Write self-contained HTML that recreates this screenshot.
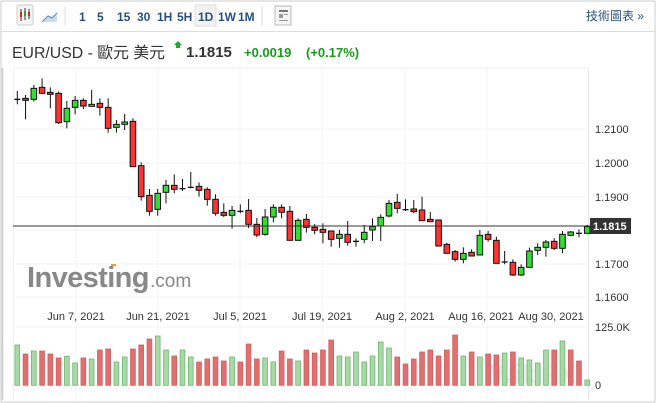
<!DOCTYPE html>
<html><head><meta charset="utf-8">
<style>
body{margin:0;width:656px;height:403px;overflow:hidden;background:#fff;font-family:"Liberation Sans","Noto Sans CJK TC",sans-serif;}
svg{position:absolute;left:0;top:0}
</style></head>
<body>
<svg id="s" width="656" height="403" xmlns="http://www.w3.org/2000/svg" font-family="Liberation Sans, Noto Sans CJK TC, sans-serif">
<rect x="1" y="1" width="654" height="401" fill="#fff" stroke="#ccc"/>
<line x1="0" y1="31.5" x2="656" y2="31.5" stroke="#ddd"/>
<rect x="17" y="5" width="16" height="20" rx="2" fill="#f4f4f4" stroke="#ccc"/>
<g stroke="#333"><line x1="21" y1="9" x2="21" y2="21"/><line x1="25" y1="8" x2="25" y2="20"/><line x1="29" y1="9" x2="29" y2="19"/></g>
<rect x="20" y="12" width="2" height="5" fill="#d22"/><rect x="24" y="11" width="2" height="5" fill="#2a2"/><rect x="28" y="12" width="2" height="4" fill="#d22"/>
<path d="M42 22 L48 16 L52 18 L57 13 L57 22 Z" fill="#cde"/><path d="M42 22 L48 16 L52 18 L57 13" fill="none" stroke="#6890b8" stroke-width="1.2"/>
<line x1="65" y1="6" x2="65" y2="26" stroke="#ddd"/>
<g font-size="12" fill="#2a4f7e" font-weight="bold">
<text x="79" y="21">1</text><text x="97" y="21">5</text><text x="117" y="21">15</text><text x="137" y="21">30</text><text x="157" y="21">1H</text><text x="177" y="21">5H</text>
<rect x="195" y="5" width="21" height="21" fill="#f2f2f2" stroke="#ddd"/><text x="198" y="21">1D</text><text x="218" y="21">1W</text><text x="238" y="21">1M</text></g>
<line x1="262" y1="6" x2="262" y2="26" stroke="#ddd"/>
<rect x="275" y="6" width="16" height="19" fill="#f4f4f4" stroke="#bbb"/><rect x="279" y="10" width="9" height="2" fill="#777"/><rect x="279" y="14" width="4" height="4" fill="#999"/><rect x="284" y="14" width="4" height="1" fill="#999"/><rect x="279" y="20" width="9" height="1" fill="#999"/>
<text x="586" y="20" font-size="12" fill="#2a4f7e">技術圖表 »</text>
<text x="12" y="58" font-size="16" fill="#333" textLength="153" lengthAdjust="spacingAndGlyphs">EUR/USD - 歐元 美元</text>
<path d="M174 45 L178 41 L182 45 L180 45 L180 48 L176 48 L176 45Z" fill="#2a2"/>
<text x="186" y="57" font-size="15" font-weight="bold" fill="#333">1.1815</text>
<text x="244" y="57" font-size="13" font-weight="bold" fill="#1a9a1a">+0.0019</text>
<text x="306" y="57" font-size="13" font-weight="bold" fill="#1a9a1a">(+0.17%)</text>
<line x1="13" y1="68" x2="588" y2="68" stroke="#eee"/>
<line x1="13.5" y1="68" x2="13.5" y2="400" stroke="#eee"/>
<line x1="588.5" y1="68" x2="588.5" y2="400" stroke="#e6e6e6"/>
<line x1="2.5" y1="68" x2="2.5" y2="400" stroke="#ccc" stroke-width="1.5"/>
<g stroke="#f3f3f3"><line x1="13" y1="129" x2="588" y2="129"/><line x1="13" y1="163" x2="588" y2="163"/><line x1="13" y1="197" x2="588" y2="197"/><line x1="13" y1="230" x2="588" y2="230"/><line x1="13" y1="264" x2="588" y2="264"/><line x1="13" y1="297" x2="588" y2="297"/><line x1="13" y1="327" x2="588" y2="327"/>
<line x1="76" y1="68" x2="76" y2="400"/><line x1="158" y1="68" x2="158" y2="400"/><line x1="240" y1="68" x2="240" y2="400"/><line x1="322" y1="68" x2="322" y2="400"/><line x1="405" y1="68" x2="405" y2="400"/><line x1="487" y1="68" x2="487" y2="400"/></g>
<g font-size="11" fill="#333"><text x="595" y="133">1.2100</text><text x="595" y="167">1.2000</text><text x="595" y="201">1.1900</text><text x="595" y="268">1.1700</text><text x="595" y="301">1.1600</text><text x="595" y="331">125.0K</text><text x="595" y="389">0</text></g>
<g font-size="11" fill="#333" text-anchor="middle"><text x="76" y="320">Jun 7, 2021</text><text x="158" y="320">Jun 21, 2021</text><text x="240" y="320">Jul 5, 2021</text><text x="322" y="320">Jul 19, 2021</text><text x="405" y="320">Aug 2, 2021</text><text x="481" y="320">Aug 16, 2021</text><text x="551" y="320">Aug 30, 2021</text></g>
<text x="27" y="287" font-size="29" font-weight="bold" fill="#888" letter-spacing="-0.6">Investing</text><text x="150" y="287" font-size="19" fill="#888">.com</text>
<rect x="111" y="264" width="5" height="2" fill="#f0a030"/>
<text x="490" y="383" font-size="26" fill="#eee" font-weight="bold">WikiFX</text>
<g id="vol"></g><g id="c"></g>
<line x1="13" y1="226" x2="590" y2="226" stroke="#333" stroke-width="1"/>
<rect x="590" y="218" width="41" height="16" fill="#333"/><text x="593" y="230" font-size="11" fill="#fff" font-weight="bold">1.1815</text>
</svg>
<script>
var A=[[88,88,63,103],[85,91,75,148],[88,55,45,95],[52,70,25,70],[67,73,52,115],[70,158,65,162],[155,115,93,175],[112,91,78,133],[91,108,85,117],[109,103,60,109],[100,112,85,137],[112,175,85,188],[172,163,150,188],[163,156,132,180],[154,290,145,290],[287,380,277,392],[376,424,357,437],[418,370,357,437],[367,346,330,400],[346,358,313,370],[356,356,327,363],[352,352,306,355],[349,361,337,380],[358,388,352,407],[388,430,373,437],[427,436,400,441],[436,421,408,476],[424,424,403,430],[421,463,387,474],[463,495,444,502],[493,441,417,497],[441,412,403,457],[412,427,403,445],[424,511,408,511],[511,451,445,511],[448,472,432,488],[472,481,462,493],[478,487,460,520]];
var B=[[183,208,183,230],[205,193,180,233],[193,217,153,227],[214,214,205,230],[208,187,165,220],[180,170,145,213],[168,142,133,213],[138,100,90,142],[97,115,72,130],[119,119,88,123],[117,125,90,130],[120,152,80,152],[148,155,126,155],[150,228,150,230],[223,250,218,250],[245,268,240,275],[268,250,232,280],[247,258,238,258],[255,196,180,255],[193,208,183,215],[211,280,200,280],[276,276,243,283],[277,315,268,318],[315,292,283,318],[292,243,233,292],[241,232,220,255],[232,216,210,260],[214,235,205,240],[235,193,183,250],[196,186,183,197],[190,190,178,202],[190,170,165,190]];
var h='';function cd(i,o,c,hi,lo){var x=17.3+i*8.26;h+='<line x1="'+x+'" y1="'+hi+'" x2="'+x+'" y2="'+lo+'" stroke="#111" stroke-width="1"/>';var t=Math.min(o,c),b=Math.max(o,c);if(b-t<1.5){h+='<line x1="'+(x-3)+'" y1="'+t+'" x2="'+(x+3)+'" y2="'+t+'" stroke="#111" stroke-width="1.3"/>';}else h+='<rect x="'+(x-2.8)+'" y="'+t+'" width="5.6" height="'+(b-t)+'" fill="'+(c<o?'#33dd33':'#ff3333')+'" stroke="#111" stroke-width="1"/>';}
A.forEach(function(d,i){cd(i,70+d[0]/3,70+d[1]/3,70+d[2]/3,70+d[3]/3);});
B.forEach(function(d,i){cd(38+i,170+d[0]/3,170+d[1]/3,170+d[2]/3,170+d[3]/3);});
document.getElementById('c').innerHTML=h;
var V="g135 r162 g153 r153 r162 r174 g169 g189 r174 g177 r150 r147 g186 g171 r147 r135 r117 g108 g150 r168 g150 g171 r186 r177 r171 r183 g171 r186 r132 r177 g174 g186 r153 r177 g183 r150 r159 r150 r120 g168 g171 g156 g186 g168 g126 g144 r171 r192 r177 r156 r150 r168 r150 r105 g168 r156 g171 r162 r165 g159 r156 g174 g180 g189 g150 r150 g123 r150 r183 g240".split(' ');
var v='';V.slice(0,70).forEach(function(s,i){var x=17.3+i*8.26,y=300+(+s.slice(1))/3;v+='<rect x="'+(x-2.4)+'" y="'+y+'" width="4.8" height="'+(385.3-y)+'" fill="'+(s[0]=='g'?'#a8d8a8':'#e07070')+'" stroke="'+(s[0]=='g'?'#6db86d':'#d06060')+'" stroke-width="0.8"/>';});
document.getElementById('vol').innerHTML=v;
</script>
</body></html>
